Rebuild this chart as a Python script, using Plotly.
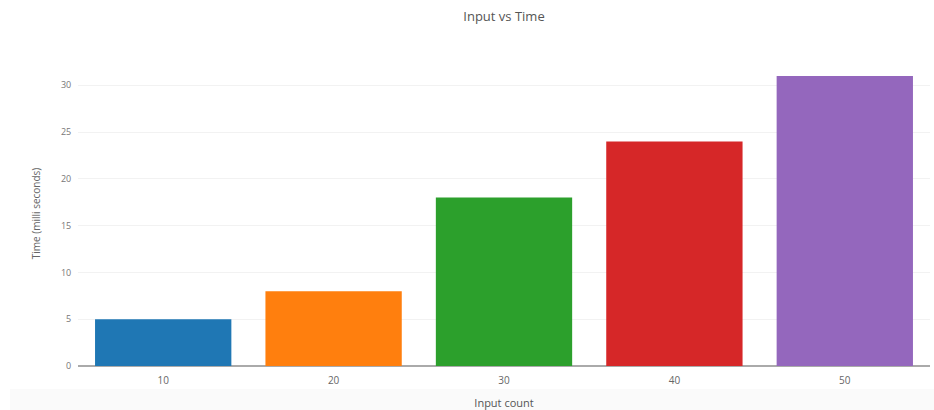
import plotly.graph_objects as go

# Input counts (categories) and measured time in milliseconds
input_counts = ["10", "20", "30", "40", "50"]
time_ms = [5, 8, 18, 24, 31]
bar_colors = ["#1f77b4", "#ff7f0e", "#2ca02c", "#d62728", "#9467bd"]

fig = go.Figure(
    go.Bar(
        x=input_counts,
        y=time_ms,
        marker=dict(color=bar_colors, line=dict(width=0)),
        width=0.8,
    )
)

fig.update_layout(
    width=934,
    height=410,
    margin=dict(l=78, r=4, t=61, b=44),
    paper_bgcolor="white",
    plot_bgcolor="white",
    font=dict(family="Open Sans, sans-serif", size=10, color="#555"),
    title=dict(
        text="Input vs Time",
        x=0.5,
        xref="paper",
        xanchor="center",
        y=0.96,
        yanchor="middle",
        font=dict(size=13, color="#555"),
    ),
    showlegend=False,
    bargap=0.2,
    xaxis=dict(
        type="category",
        automargin=False,
        title=dict(text="Input count", font=dict(size=11, color="#555"), standoff=14),
        showgrid=False,
        showline=False,
        ticks="outside",
        ticklen=5,
        tickcolor="rgba(0,0,0,0)",
        tickfont=dict(size=10, color="#666"),
    ),
    yaxis=dict(
        automargin=False,
        title=dict(text="Time (milli seconds)", font=dict(size=10, color="#666"), standoff=18),
        range=[0, 32.6],
        dtick=5,
        showgrid=True,
        gridcolor="#f2f2f2",
        zeroline=True,
        zerolinecolor="#aaa",
        zerolinewidth=1.5,
        tickfont=dict(size=9, color="#777"),
        ticks="outside",
        ticklen=4,
        tickcolor="rgba(0,0,0,0)",
    ),
    shapes=[
        dict(
            type="rect",
            xref="paper",
            yref="paper",
            x0=-0.08,
            x1=1.01,
            y0=-0.144,
            y1=-0.075,
            fillcolor="#fafafa",
            line=dict(width=0),
            layer="below",
        )
    ],
)

fig.write_html("out.html")
